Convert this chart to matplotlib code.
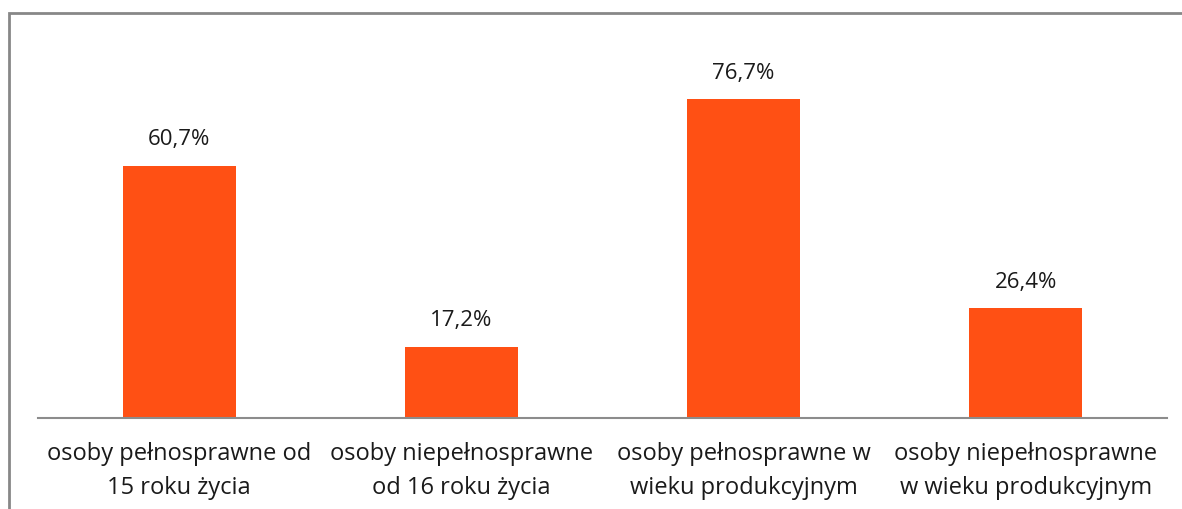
import matplotlib.pyplot as plt
from matplotlib.patches import Rectangle

categories = ["osoby pełnosprawne od\n15 roku życia",
              "osoby niepełnosprawne\nod 16 roku życia",
              "osoby pełnosprawne w\nwieku produkcyjnym",
              "osoby niepełnosprawne\nw wieku produkcyjnym"]
values = [60.7, 17.2, 76.7, 26.4]
labels = ["60,7%", "17,2%", "76,7%", "26,4%"]

plt.rcParams['font.family'] = ['Open Sans', 'DejaVu Sans']

W, H = 1182, 509
fig = plt.figure(figsize=(W / 100, H / 100), dpi=100)
fig.patches.append(Rectangle((8.5 / W, -0.1), 1.2, (H - 12.5) / H + 0.1,
                             transform=fig.transFigure, fill=False,
                             edgecolor="#878787", linewidth=2))

ax = fig.add_axes([38 / W, (H - 418) / H, (1167 - 38) / W, (418 - 44) / H])
x = range(len(values))
ax.bar(x, values, width=0.4, color="#FF5014")
for i, v in enumerate(values):
    ax.annotate(labels[i], (i, v), xytext=(0, 11), textcoords="offset points",
                ha="center", va="bottom", fontsize=16, color="#1a1a1a")
ax.set_xlim(-0.5, 3.5)
ax.set_ylim(0, 90)
ax.set_xticks(list(x))
ax.set_xticklabels(categories, fontsize=17, color="#1a1a1a", linespacing=1.55)
ax.tick_params(axis="x", length=0, pad=17)
ax.set_yticks([])
for s in ["top", "right", "left"]:
    ax.spines[s].set_visible(False)
ax.spines["bottom"].set_color("#8c8c8c")
ax.spines["bottom"].set_linewidth(1.5)

fig.savefig("out.png", dpi=100)
